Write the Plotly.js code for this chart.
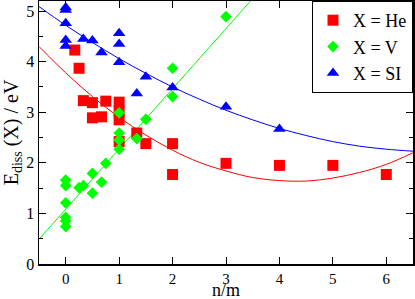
<!DOCTYPE html>
<html>
<head>
<meta charset="utf-8">
<script src="https://cdn.plot.ly/plotly-3.0.1.min.js"></script>
<style>html,body{margin:0;padding:0;background:#fff;}#chart{width:415px;height:299px;}</style>
</head>
<body>
<div id="chart"></div>
<script>
// Data
const heX = [0.17, 0.25, 0.33, 0.5, 0.75, 0.5, 0.67, 1, 1, 1, 1, 1.33, 1.5, 2, 2, 3, 4, 5, 6];
const heY = [4.23, 3.87, 3.23, 3.19, 3.22, 2.89, 2.91, 3.2, 3.02, 2.85, 2.42, 2.59, 2.38, 2.38, 1.77, 1.99, 1.95, 1.95, 1.77];

const vX = [0, 0, 0, 0, 0, 0, 0.25, 0.33, 0.5, 0.5, 0.67, 0.75, 1, 1, 1, 1, 1.33, 1.5, 2, 2, 3];
const vY = [1.66, 1.55, 1.21, 0.92, 0.85, 0.74, 1.51, 1.55, 1.79, 1.40, 1.62, 1.99, 2.99, 2.59, 2.45, 2.27, 2.48, 2.86, 3.87, 3.31, 4.89];

const siX = [0, 0, 0, 0, 0, 0.33, 0.5, 0.67, 1, 1, 1, 1.33, 1.5, 2, 3, 4];
const siY = [5.07, 5.02, 4.76, 4.43, 4.31, 4.45, 4.42, 4.18, 4.56, 4.35, 3.99, 3.37, 3.70, 3.49, 3.11, 2.67];

// Fit curves
const fitX = [-0.5, 0, 0.5, 1, 1.5, 2, 2.5, 3, 3.5, 4, 4.5, 5, 5.5, 6, 6.5];
const heFitY = [4.30, 3.78, 3.31, 2.90, 2.55, 2.25, 2.01, 1.84, 1.71, 1.65, 1.64, 1.70, 1.81, 1.97, 2.20];
const siFitY = [5.09, 4.72, 4.38, 4.06, 3.77, 3.50, 3.26, 3.04, 2.85, 2.68, 2.54, 2.42, 2.33, 2.27, 2.23];
const vFitX = [-0.5, 3.6];
const vFitY = [0.49, 5.37];

const seriesNames = ['X = He', 'X = V', 'X = SI'];
const xTitle = 'n/m';
const yTitle = 'E<sub>diss</sub> (X) / eV';

const SERIF = '"Liberation Serif", "Times New Roman", serif';

const traces = [
  {x: fitX, y: heFitY, mode: 'lines', line: {color: '#ff0000', width: 1, shape: 'spline'}, showlegend: false, hoverinfo: 'skip'},
  {x: vFitX, y: vFitY, mode: 'lines', line: {color: '#00ff00', width: 1}, showlegend: false, hoverinfo: 'skip'},
  {x: fitX, y: siFitY, mode: 'lines', line: {color: '#0000ff', width: 1, shape: 'spline'}, showlegend: false, hoverinfo: 'skip'},
  {x: heX, y: heY, mode: 'markers', name: seriesNames[0], marker: {symbol: 'square', size: 11, color: '#ff0000', line: {width: 0}}},
  {x: vX, y: vY, mode: 'markers', name: seriesNames[1], marker: {symbol: 'diamond', size: 9, color: '#00ff00', line: {width: 0}}},
  {x: siX, y: siY, mode: 'markers', name: seriesNames[2], marker: {symbol: 'triangle-up', size: 11, color: '#0000ff', line: {width: 0}}}
];

const layout = {
  width: 415, height: 299,
  margin: {l: 39, r: 2, t: 1, b: 35},
  paper_bgcolor: '#fff', plot_bgcolor: '#fff',
  font: {family: SERIF, color: '#000', size: 16},
  showlegend: true,
  legend: {
    x: 1, y: 1, xanchor: 'right', yanchor: 'top',
    bgcolor: '#fff', bordercolor: '#000', borderwidth: 1,
    font: {family: SERIF, size: 18, color: '#000'},
    itemwidth: 30, tracegroupgap: 0
  },
  xaxis: {
    range: [-0.5, 6.5], dtick: 1, tick0: 0,
    showgrid: false, zeroline: false,
    showline: true, linecolor: '#000', linewidth: 1.5, mirror: 'ticks',
    ticks: 'inside', ticklen: 7, tickcolor: '#000', tickwidth: 1,
    tickfont: {family: SERIF, size: 15, color: '#000'}
  },
  yaxis: {
    range: [0, 5.2], dtick: 1, tick0: 0,
    showgrid: false, zeroline: false,
    showline: true, linecolor: '#000', linewidth: 1.5, mirror: 'ticks',
    ticks: 'inside', ticklen: 7, tickcolor: '#000', tickwidth: 1,
    minor: {ticks: 'inside', dtick: 0.5, ticklen: 4, tickcolor: '#000', showgrid: false},
    tickfont: {family: SERIF, size: 16, color: '#000'},
    title: {text: yTitle, font: {family: SERIF, size: 20, color: '#000'}, standoff: 2}
  },
  annotations: [{
    text: xTitle, xref: 'paper', yref: 'paper', x: 0.5, y: 0,
    xanchor: 'center', yanchor: 'bottom', yshift: -37, showarrow: false,
    borderpad: 0,
    font: {family: SERIF, size: 18, color: '#000'}
  }]
};

Plotly.newPlot('chart', traces, layout, {displayModeBar: false, staticPlot: true});
</script>
</body>
</html>
